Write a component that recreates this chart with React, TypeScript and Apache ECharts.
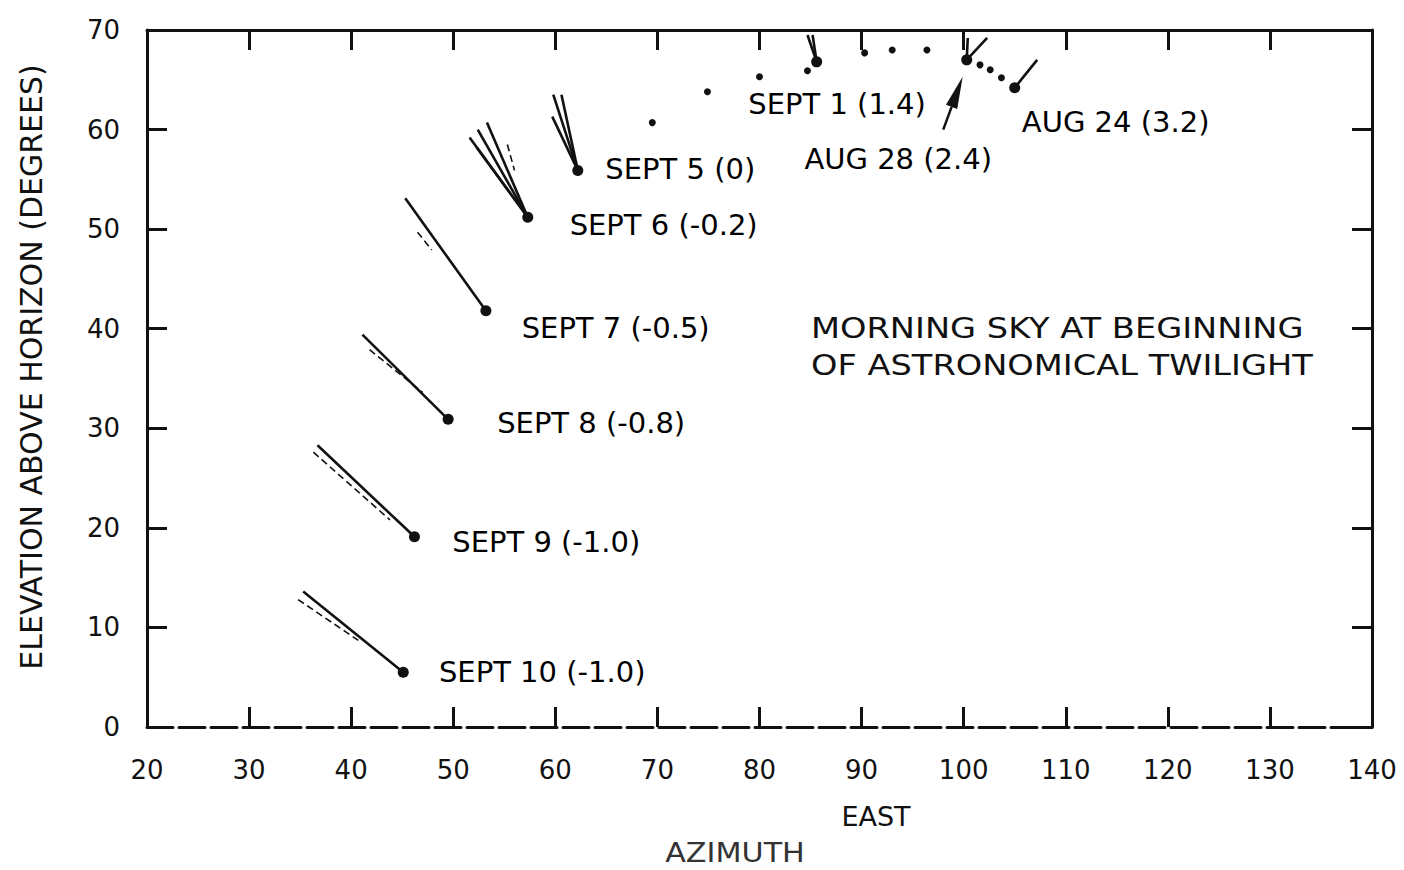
import { useEffect, useRef } from "react";
import * as echarts from "echarts";

const FONT = "DejaVu Sans";
const INK = "#111";

// Axis ticks
const azimuthTicks = [20, 30, 40, 50, 60, 70, 80, 90, 100, 110, 120, 130, 140];
const elevationTicks = [0, 10, 20, 30, 40, 50, 60, 70];

// Comet head positions (azimuth, elevation) with date and magnitude
const headLabels = [
  "SEPT 10 (-1.0)",
  "SEPT 9 (-1.0)",
  "SEPT 8 (-0.8)",
  "SEPT 7 (-0.5)",
  "SEPT 6 (-0.2)",
  "SEPT 5 (0)",
  "SEPT 1 (1.4)",
  "AUG 28 (2.4)",
  "AUG 24 (3.2)",
];
const headAzimuth = [45.1, 46.2, 49.5, 53.2, 57.3, 62.2, 85.6, 100.3, 105.0];
const headElevation = [5.5, 19.1, 30.9, 41.8, 51.2, 55.9, 66.8, 67.0, 64.2];

// Tail tips for each head (solid tail lines drawn from the head)
const tailTipAzimuth = [
  [35.3],
  [36.7],
  [41.1],
  [45.3],
  [53.3, 52.4, 51.6, 52.3],
  [59.8, 60.6, 59.7],
  [84.7, 85.2],
  [100.4, 102.3],
  [107.2],
];
const tailTipElevation = [
  [13.6],
  [28.3],
  [39.4],
  [53.1],
  [60.7, 60.0, 59.2, 58.2],
  [63.5, 63.5, 61.3],
  [69.5, 69.5],
  [69.2, 69.2],
  [67.0],
];

// Faint secondary tail streaks
const streakStartAzimuth = [34.8, 36.3, 41.8, 46.5, 55.3];
const streakStartElevation = [12.8, 27.6, 37.9, 49.7, 58.5];
const streakEndAzimuth = [40.7, 43.8, 47.0, 47.9, 56.0];
const streakEndElevation = [8.7, 20.8, 33.6, 47.9, 55.9];

// Daily positions between the labelled dates
const dailyAzimuth = [69.5, 74.9, 80.0, 84.7, 90.3, 93.0, 96.4, 101.6, 102.6, 103.7];
const dailyElevation = [60.7, 63.8, 65.3, 65.9, 67.7, 68.0, 68.0, 66.5, 66.0, 65.2];

// Label anchor points (left edge, vertical middle) in data space
const labelAzimuth = [48.6, 49.9, 54.3, 56.7, 61.4, 64.9, 78.9, 84.4, 105.7];
const labelElevation = [5.5, 18.6, 30.5, 40.1, 50.4, 56.0, 62.6, 57.0, 60.8];

// Arrow pointing at AUG 28
const arrowFrom = [98.0, 60.0];
const arrowTo = [99.9, 65.3];

function buildOption() {
  const tailLines: any[] = [];
  headAzimuth.forEach((hx, i) => {
    tailTipAzimuth[i].forEach((tx, j) => {
      tailLines.push({
        coords: [
          [hx, headElevation[i]],
          [tx, tailTipElevation[i][j]],
        ],
      });
    });
  });
  const streaks = streakStartAzimuth.map((sx, i) => ({
    coords: [
      [sx, streakStartElevation[i]],
      [streakEndAzimuth[i], streakEndElevation[i]],
    ],
  }));

  const axisLabel = { fontSize: 26, color: INK, fontFamily: FONT };

  return {
    animation: false,
    backgroundColor: "#fff",
    grid: { left: 147, right: 32, top: 30, bottom: 143 },
    xAxis: [
      {
        type: "value",
        position: "bottom",
        min: azimuthTicks[0],
        max: azimuthTicks[azimuthTicks.length - 1],
        interval: 10,
        axisLine: { show: true, onZero: false, lineStyle: { color: INK, width: 3, type: [26, 6] } },
        axisTick: { show: true, inside: true, length: 20, lineStyle: { color: INK, width: 3 } },
        axisLabel: { ...axisLabel, margin: 30 },
        splitLine: { show: false },
      },
      {
        type: "value",
        position: "top",
        min: azimuthTicks[0],
        max: azimuthTicks[azimuthTicks.length - 1],
        interval: 10,
        axisLine: { show: true, onZero: false, lineStyle: { color: INK, width: 3 } },
        axisTick: { show: true, inside: true, length: 20, lineStyle: { color: INK, width: 3 } },
        axisLabel: { show: false },
        splitLine: { show: false },
      },
    ],
    yAxis: [
      {
        type: "value",
        position: "left",
        min: elevationTicks[0],
        max: elevationTicks[elevationTicks.length - 1],
        interval: 10,
        axisLine: { show: true, onZero: false, lineStyle: { color: INK, width: 3 } },
        axisTick: { show: true, inside: true, length: 20, lineStyle: { color: INK, width: 3 } },
        axisLabel: { ...axisLabel, margin: 27 },
        splitLine: { show: false },
      },
      {
        type: "value",
        position: "right",
        min: elevationTicks[0],
        max: elevationTicks[elevationTicks.length - 1],
        interval: 10,
        axisLine: { show: true, onZero: false, lineStyle: { color: INK, width: 3 } },
        axisTick: { show: true, inside: true, length: 20, lineStyle: { color: INK, width: 3 } },
        axisLabel: { show: false },
        splitLine: { show: false },
      },
    ],
    graphic: [
      {
        type: "text",
        x: 31,
        y: 367,
        rotation: Math.PI / 2,
        style: {
          text: "ELEVATION ABOVE HORIZON (DEGREES)",
          fontSize: 30,
          fontFamily: FONT,
          fill: INK,
          align: "center",
          verticalAlign: "middle",
        },
      },
      {
        type: "text",
        x: 876,
        y: 816,
        style: { text: "EAST", fontSize: 27, fontFamily: FONT, fill: INK, align: "center", verticalAlign: "middle" },
      },
      {
        type: "group",
        x: 735,
        y: 853,
        scaleX: 1.12,
        children: [
          {
            type: "text",
            x: 0,
            y: 0,
            style: { text: "AZIMUTH", fontSize: 27, fontFamily: FONT, fill: "#333", align: "center", verticalAlign: "middle" },
          },
        ],
      },
      {
        type: "group",
        x: 811,
        y: 346,
        scaleX: 1.16,
        children: [
          {
            type: "text",
            x: 0,
            y: 0,
            style: {
              text: "MORNING SKY AT BEGINNING\nOF ASTRONOMICAL TWILIGHT",
              fontSize: 29,
              lineHeight: 37,
              fontFamily: FONT,
              fill: INK,
              align: "left",
              verticalAlign: "middle",
            },
          },
        ],
      },
    ],
    series: [
      {
        type: "lines",
        name: "tails",
        coordinateSystem: "cartesian2d",
        xAxisIndex: 0,
        yAxisIndex: 0,
        data: tailLines,
        lineStyle: { color: INK, width: 2.6, opacity: 1, curveness: 0 },
        silent: true,
        z: 3,
      },
      {
        type: "lines",
        name: "streaks",
        coordinateSystem: "cartesian2d",
        xAxisIndex: 0,
        yAxisIndex: 0,
        data: streaks,
        lineStyle: { color: INK, width: 1.6, opacity: 1, type: [7, 4], curveness: 0 },
        silent: true,
        z: 3,
      },
      {
        type: "scatter",
        name: "heads",
        data: headAzimuth.map((x, i) => [x, headElevation[i]]),
        symbol: "circle",
        symbolSize: 11,
        itemStyle: { color: INK, opacity: 1 },
        silent: true,
        z: 4,
      },
      {
        type: "scatter",
        name: "daily",
        data: dailyAzimuth.map((x, i) => [x, dailyElevation[i]]),
        symbol: "circle",
        symbolSize: 7,
        itemStyle: { color: INK, opacity: 1 },
        silent: true,
        z: 4,
      },
      {
        type: "scatter",
        name: "labels",
        data: labelAzimuth.map((x, i) => ({ value: [x, labelElevation[i]], name: headLabels[i] })),
        symbol: "circle",
        symbolSize: 0,
        itemStyle: { color: "#000", opacity: 1 },
        label: {
          show: true,
          position: "right",
          distance: 0,
          formatter: (p: any) => p.name,
          fontSize: 29,
          fontFamily: FONT,
          color: "#000",
          opacity: 1,
          verticalAlign: "middle",
        },
        silent: true,
        z: 5,
      },
      {
        type: "custom",
        name: "arrow",
        data: [[arrowFrom[0], arrowFrom[1], arrowTo[0], arrowTo[1]]],
        renderItem: (_params: any, api: any) => {
          const p0 = api.coord([api.value(0), api.value(1)]);
          const p1 = api.coord([api.value(2), api.value(3)]);
          const dx = p1[0] - p0[0];
          const dy = p1[1] - p0[1];
          const len = Math.hypot(dx, dy);
          const ux = dx / len;
          const uy = dy / len;
          const nx = -uy;
          const ny = ux;
          const headLen = 32;
          const headW = 6;
          const bx = p1[0] - ux * headLen;
          const by = p1[1] - uy * headLen;
          return {
            type: "group",
            children: [
              {
                type: "line",
                shape: { x1: p0[0], y1: p0[1], x2: bx, y2: by },
                style: { stroke: INK, lineWidth: 2.5 },
              },
              {
                type: "polygon",
                shape: {
                  points: [
                    [p1[0], p1[1]],
                    [bx + nx * headW, by + ny * headW],
                    [bx - nx * headW, by - ny * headW],
                  ],
                },
                style: { fill: INK },
              },
            ],
          };
        },
        silent: true,
        z: 5,
      },
    ],
  };
}

export default function App() {
  const ref = useRef<HTMLDivElement>(null);
  useEffect(() => {
    if (!ref.current) return;
    const chart = echarts.init(ref.current, null, { renderer: "svg" });
    chart.setOption(buildOption() as any);
    return () => chart.dispose();
  }, []);
  return (
    <div
      ref={ref}
      style={{ position: "fixed", left: 0, top: 0, width: 1404, height: 870, background: "#fff" }}
    />
  );
}
